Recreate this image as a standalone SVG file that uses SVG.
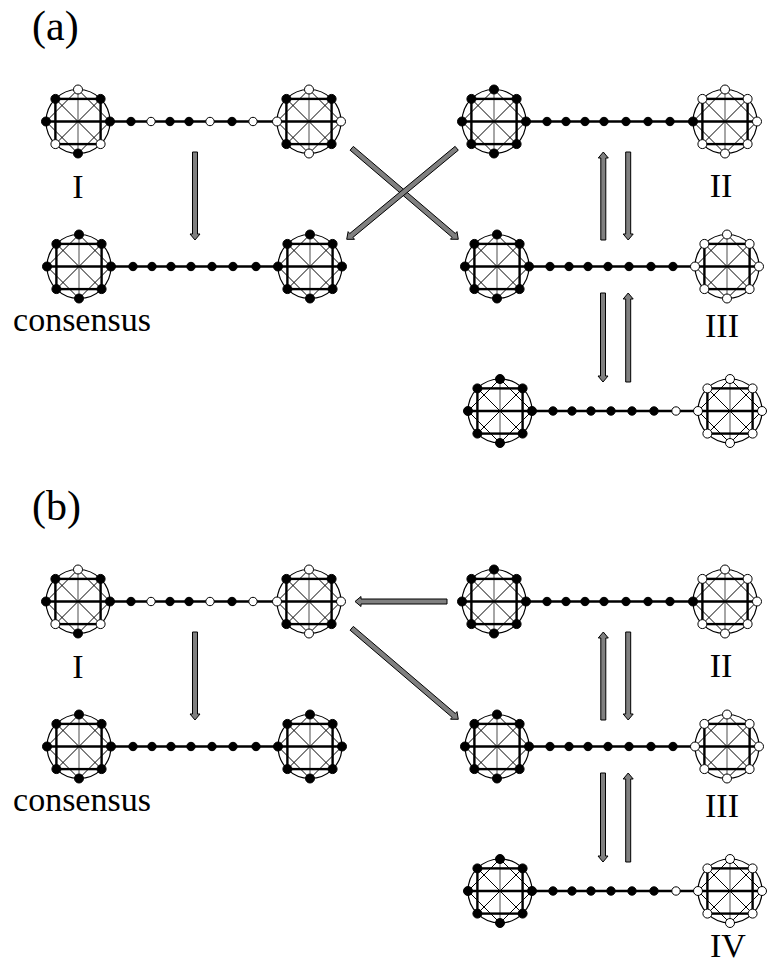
<svg xmlns="http://www.w3.org/2000/svg" xmlns:xlink="http://www.w3.org/1999/xlink" width="767" height="968" viewBox="0 0 767 968">
<style>
.ring{fill:none;stroke:#000;stroke-width:1.2}
.thk{fill:none;stroke:#000;stroke-width:2.4}
.thn{fill:none;stroke:#000;stroke-width:1}
.gry{fill:none;stroke:#808080;stroke-width:1.4}
.b{fill:#000;stroke:#000;stroke-width:1}
.w{fill:#fff;stroke:#000;stroke-width:1}
.chain{stroke:#000;stroke-width:2.4}
.arr{fill:#808080;stroke:#000;stroke-width:1;stroke-linejoin:miter}
.lbl{font-size:34px;fill:#000;text-anchor:middle}
.pan{font-size:42px;fill:#000}
</style>
<defs>
<g id="wb">
<circle class="ring" r="32"/>
<polygon class="thn" points="0,-32 32,0 0,32 -32,0"/>
<line class="thn" x1="-22.6" y1="-22.6" x2="22.6" y2="22.6"/>
<line class="thn" x1="22.6" y1="-22.6" x2="-22.6" y2="22.6"/>
<line class="gry" x1="0" y1="-32" x2="0" y2="32"/>
<rect class="thk" x="-22.6" y="-22.6" width="45.2" height="45.2"/>
<line class="thk" x1="-32" y1="0" x2="32" y2="0"/>
</g>
<g id="wheelA">
<use xlink:href="#wb"/>
<circle class="w" cx="0" cy="-32" r="4.5"/><circle class="b" cx="22.6" cy="-22.6" r="4.5"/>
<circle class="b" cx="32" cy="0" r="4.5"/><circle class="w" cx="22.6" cy="22.6" r="4.5"/>
<circle class="b" cx="0" cy="32" r="4.5"/><circle class="w" cx="-22.6" cy="22.6" r="4.5"/>
<circle class="b" cx="-32" cy="0" r="4.5"/><circle class="b" cx="-22.6" cy="-22.6" r="4.5"/>
</g>
<g id="wheelC">
<use xlink:href="#wb"/>
<circle class="w" cx="0" cy="-32" r="4.5"/><circle class="b" cx="22.6" cy="-22.6" r="4.5"/>
<circle class="w" cx="32" cy="0" r="4.5"/><circle class="b" cx="22.6" cy="22.6" r="4.5"/>
<circle class="w" cx="0" cy="32" r="4.5"/><circle class="b" cx="-22.6" cy="22.6" r="4.5"/>
<circle class="w" cx="-32" cy="0" r="4.5"/><circle class="b" cx="-22.6" cy="-22.6" r="4.5"/>
</g>
<g id="wheelB">
<use xlink:href="#wb"/>
<circle class="b" cx="0" cy="-32" r="4.5"/><circle class="b" cx="22.6" cy="-22.6" r="4.5"/>
<circle class="b" cx="32" cy="0" r="4.5"/><circle class="b" cx="22.6" cy="22.6" r="4.5"/>
<circle class="b" cx="0" cy="32" r="4.5"/><circle class="b" cx="-22.6" cy="22.6" r="4.5"/>
<circle class="b" cx="-32" cy="0" r="4.5"/><circle class="b" cx="-22.6" cy="-22.6" r="4.5"/>
</g>
<g id="wheelW">
<use xlink:href="#wb"/>
<circle class="w" cx="0" cy="-32" r="4.5"/><circle class="w" cx="22.6" cy="-22.6" r="4.5"/>
<circle class="w" cx="32" cy="0" r="4.5"/><circle class="w" cx="22.6" cy="22.6" r="4.5"/>
<circle class="w" cx="0" cy="32" r="4.5"/><circle class="w" cx="-22.6" cy="22.6" r="4.5"/>
<circle class="w" cx="-32" cy="0" r="4.5"/><circle class="w" cx="-22.6" cy="-22.6" r="4.5"/>
</g>
<g id="wheelD">
<use xlink:href="#wb"/>
<circle class="w" cx="0" cy="-32" r="4.5"/><circle class="w" cx="22.6" cy="-22.6" r="4.5"/>
<circle class="w" cx="32" cy="0" r="4.5"/><circle class="w" cx="22.6" cy="22.6" r="4.5"/>
<circle class="w" cx="0" cy="32" r="4.5"/><circle class="w" cx="-22.6" cy="22.6" r="4.5"/>
<circle class="b" cx="-32" cy="0" r="4.5"/><circle class="w" cx="-22.6" cy="-22.6" r="4.5"/>
</g>
<g id="molI">
<line class="chain" x1="110" y1="0" x2="277" y2="0"/>
<use xlink:href="#wheelA" x="78" y="0"/>
<use xlink:href="#wheelC" x="309" y="0"/>
<circle class="b" cx="131" cy="0" r="4.2"/><circle class="w" cx="151" cy="0" r="4.2"/>
<circle class="b" cx="170" cy="0" r="4.2"/><circle class="b" cx="189" cy="0" r="4.2"/>
<circle class="w" cx="210" cy="0" r="4.2"/><circle class="b" cx="232" cy="0" r="4.2"/>
<circle class="w" cx="253" cy="0" r="4.2"/>
</g>
<g id="molII">
<line class="chain" x1="526" y1="0" x2="693" y2="0"/>
<use xlink:href="#wheelB" x="494" y="0"/>
<use xlink:href="#wheelD" x="725" y="0"/>
<circle class="b" cx="547" cy="0" r="4.2"/><circle class="b" cx="566" cy="0" r="4.2"/>
<circle class="b" cx="585" cy="0" r="4.2"/><circle class="b" cx="604" cy="0" r="4.2"/>
<circle class="b" cx="626" cy="0" r="4.2"/><circle class="b" cx="648" cy="0" r="4.2"/>
<circle class="b" cx="670" cy="0" r="4.2"/>
</g>
<g id="molCons">
<line class="chain" x1="111" y1="0" x2="278" y2="0"/>
<use xlink:href="#wheelB" x="79" y="0"/>
<use xlink:href="#wheelB" x="310" y="0"/>
<circle class="b" cx="133" cy="0" r="4.2"/><circle class="b" cx="152" cy="0" r="4.2"/>
<circle class="b" cx="171" cy="0" r="4.2"/><circle class="b" cx="191" cy="0" r="4.2"/>
<circle class="b" cx="212" cy="0" r="4.2"/><circle class="b" cx="233" cy="0" r="4.2"/>
<circle class="b" cx="256" cy="0" r="4.2"/>
</g>
<g id="molIII">
<line class="chain" x1="529" y1="0" x2="695" y2="0"/>
<use xlink:href="#wheelB" x="497" y="0"/>
<use xlink:href="#wheelW" x="727" y="0"/>
<circle class="b" cx="550" cy="0" r="4.2"/><circle class="b" cx="569" cy="0" r="4.2"/>
<circle class="b" cx="588" cy="0" r="4.2"/><circle class="b" cx="608" cy="0" r="4.2"/>
<circle class="b" cx="629" cy="0" r="4.2"/><circle class="b" cx="651" cy="0" r="4.2"/>
<circle class="b" cx="673" cy="0" r="4.2"/>
</g>
<g id="molIV">
<line class="chain" x1="532" y1="0" x2="698" y2="0"/>
<use xlink:href="#wheelB" x="500" y="0"/>
<use xlink:href="#wheelW" x="730" y="0"/>
<circle class="b" cx="553" cy="0" r="4.2"/><circle class="b" cx="572" cy="0" r="4.2"/>
<circle class="b" cx="591" cy="0" r="4.2"/><circle class="b" cx="611" cy="0" r="4.2"/>
<circle class="b" cx="632" cy="0" r="4.2"/><circle class="b" cx="654" cy="0" r="4.2"/>
<circle class="w" cx="676" cy="0" r="4.2"/>
</g>
</defs>
<rect width="767" height="968" fill="#fff"/>

<g font-family="Liberation Serif, Times New Roman, serif">
<text class="pan" x="32" y="40" font-family="Liberation Serif, serif">(a)</text>
<text class="pan" x="32" y="520" font-family="Liberation Serif, serif">(b)</text>

<g id="a-I"><use xlink:href="#molI" y="121.5"/><text class="lbl" x="78" y="198" font-family="Liberation Serif, serif">I</text></g>
<g id="a-II"><use xlink:href="#molII" y="121.5"/><text class="lbl" x="721" y="197" font-family="Liberation Serif, serif">II</text></g>
<g id="a-consensus"><use xlink:href="#molCons" y="266.5"/><text class="lbl" x="82" y="331" font-family="Liberation Serif, serif">consensus</text></g>
<g id="a-III"><use xlink:href="#molIII" y="266.5"/><text class="lbl" x="722" y="337" font-family="Liberation Serif, serif">III</text></g>
<g id="a-IV"><use xlink:href="#molIV" y="411"/></g>

<g id="b-I"><use xlink:href="#molI" y="601.5"/><text class="lbl" x="78" y="678" font-family="Liberation Serif, serif">I</text></g>
<g id="b-II"><use xlink:href="#molII" y="601.5"/><text class="lbl" x="721" y="677" font-family="Liberation Serif, serif">II</text></g>
<g id="b-consensus"><use xlink:href="#molCons" y="746.5"/><text class="lbl" x="82" y="811" font-family="Liberation Serif, serif">consensus</text></g>
<g id="b-III"><use xlink:href="#molIII" y="746.5"/><text class="lbl" x="722" y="817" font-family="Liberation Serif, serif">III</text></g>
<g id="b-IV"><use xlink:href="#molIV" y="891"/><text class="lbl" x="728" y="957" font-family="Liberation Serif, serif">IV</text></g>
</g>

<g id="connectors">
<polygon class="arr" points="192.5,152 192.5,234 190,234 195,240 200,234 197.5,234 197.5,152"/>
<polygon class="arr" points="350.08,150.2 452.12,237.31 450.49,239.21 458.3,239.3 456.99,231.61 455.36,233.51 353.32,146.4"/>
<polygon class="arr" points="455.11,146.37 349.73,233.55 348.13,231.63 346.7,239.3 354.51,239.33 352.91,237.41 458.29,150.23"/>
<polygon class="arr" points="600.8,240 600.8,158 598.3,158 603.3,152 608.3,158 605.8,158 605.8,240"/>
<polygon class="arr" points="625.7,152 625.7,234 623.2,234 628.2,240 633.2,234 630.7,234 630.7,152"/>
<polygon class="arr" points="600.5,293 600.5,376 598,376 603,382 608,376 605.5,376 605.5,293"/>
<polygon class="arr" points="625.7,382 625.7,299 623.2,299 628.2,293 633.2,299 630.7,299 630.7,382"/>
<polygon class="arr" points="192.5,632 192.5,714 190,714 195,720 200,714 197.5,714 197.5,632"/>
<polygon class="arr" points="447,599 361,599 361,596.5 355,601.5 361,606.5 361,604 447,604"/>
<polygon class="arr" points="350.08,630.2 452.12,717.31 450.49,719.21 458.3,719.3 456.99,711.61 455.36,713.51 353.32,626.4"/>
<polygon class="arr" points="600.8,720 600.8,638 598.3,638 603.3,632 608.3,638 605.8,638 605.8,720"/>
<polygon class="arr" points="625.7,632 625.7,714 623.2,714 628.2,720 633.2,714 630.7,714 630.7,632"/>
<polygon class="arr" points="600.5,773 600.5,856 598,856 603,862 608,856 605.5,856 605.5,773"/>
<polygon class="arr" points="625.7,862 625.7,779 623.2,779 628.2,773 633.2,779 630.7,779 630.7,862"/>
</g>
</svg>
